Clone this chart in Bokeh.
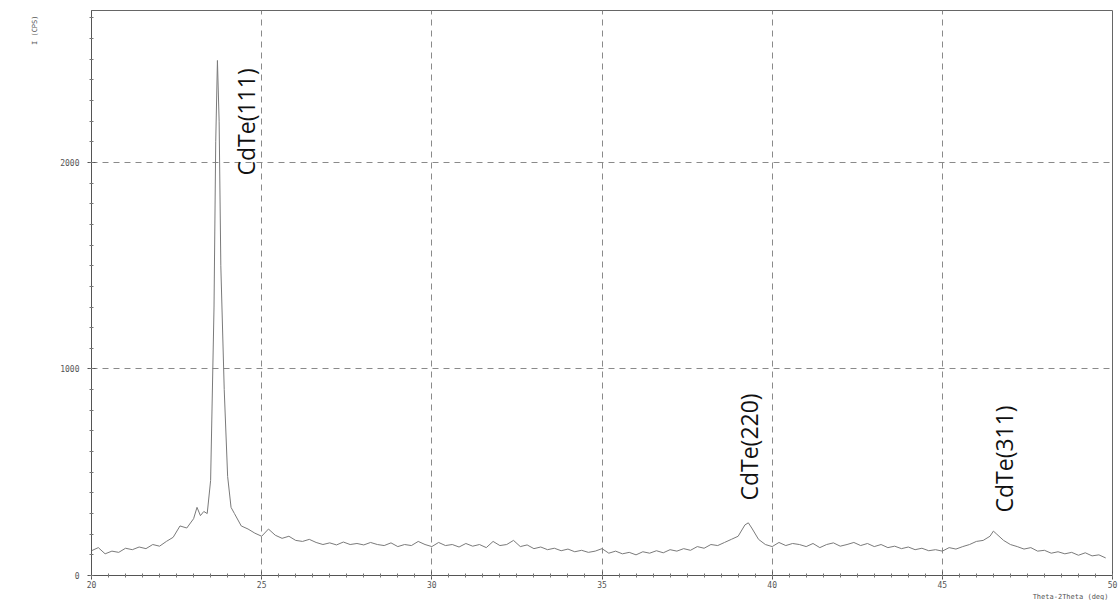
import math
from bokeh.plotting import figure
from bokeh.models import FixedTicker, Label, Range1d, Title
from bokeh.embed import file_html
from bokeh.resources import INLINE

# 2-theta (deg) and intensity (cps)
two_theta = [20.0, 20.2, 20.4, 20.6, 20.8, 21.0, 21.2, 21.4, 21.6, 21.8,
             22.0, 22.2, 22.4, 22.6, 22.8, 23.0, 23.1, 23.2, 23.3, 23.4,
             23.5, 23.6, 23.65, 23.7, 23.75, 23.8, 23.9, 24.0, 24.1, 24.2,
             24.4, 24.6, 24.8, 25.0, 25.2, 25.4, 25.6, 25.8, 26.0, 26.2,
             26.4, 26.6, 26.8, 27.0, 27.2, 27.4, 27.6, 27.8, 28.0, 28.2,
             28.4, 28.6, 28.8, 29.0, 29.2, 29.4, 29.6, 29.8, 30.0, 30.2,
             30.4, 30.6, 30.8, 31.0, 31.2, 31.4, 31.6, 31.8, 32.0, 32.2,
             32.4, 32.6, 32.8, 33.0, 33.2, 33.4, 33.6, 33.8, 34.0, 34.2,
             34.4, 34.6, 34.8, 35.0, 35.2, 35.4, 35.6, 35.8, 36.0, 36.2,
             36.4, 36.6, 36.8, 37.0, 37.2, 37.4, 37.6, 37.8, 38.0, 38.2,
             38.4, 38.6, 38.8, 39.0, 39.2, 39.3, 39.4, 39.6, 39.8, 40.0,
             40.2, 40.4, 40.6, 40.8, 41.0, 41.2, 41.4, 41.6, 41.8, 42.0,
             42.2, 42.4, 42.6, 42.8, 43.0, 43.2, 43.4, 43.6, 43.8, 44.0,
             44.2, 44.4, 44.6, 44.8, 45.0, 45.2, 45.4, 45.6, 45.8, 46.0,
             46.2, 46.4, 46.5, 46.6, 46.8, 47.0, 47.2, 47.4, 47.6, 47.8,
             48.0, 48.2, 48.4, 48.6, 48.8, 49.0, 49.2, 49.4, 49.6, 49.8]
intensity = [120, 135, 105, 118, 112, 132, 125, 138, 130, 150,
             142, 165, 185, 240, 230, 275, 330, 290, 310, 300,
             460, 1300, 2100, 2494, 2200, 1500, 900, 480, 330, 300,
             240, 225, 205, 190, 225, 195, 180, 190, 170, 165,
             175, 160, 150, 158, 148, 162, 150, 155, 148, 160,
             150, 145, 158, 140, 150, 145, 165, 150, 140, 160,
             145, 150, 138, 155, 142, 150, 135, 165, 145, 150,
             170, 140, 148, 130, 138, 125, 132, 120, 128, 115,
             122, 112, 118, 130, 108, 118, 105, 112, 100, 115,
             108, 120, 110, 125, 118, 130, 122, 140, 132, 150,
             145, 160, 175, 190, 245, 255, 230, 175, 150, 140,
             160, 145, 155, 150, 140, 155, 135, 150, 158, 142,
             150, 160, 145, 155, 140, 150, 135, 142, 130, 138,
             125, 132, 120, 125, 118, 135, 128, 140, 150, 165,
             170, 190, 215, 200, 170, 150, 140, 128, 135, 118,
             122, 108, 115, 105, 112, 98, 110, 95, 100, 85]

peak_labels = ["CdTe(111)", "CdTe(220)", "CdTe(311)"]
peak_label_x = [24.55, 39.31, 46.8]
peak_label_y = [1937, 363, 305]

x_major = [20, 25, 30, 35, 40, 45, 50]
y_major = [0, 1000, 2000]

p = figure(width=1118, height=600, output_backend="svg", toolbar_location=None,
           x_range=Range1d(20, 50), y_range=Range1d(0, 2736),
           min_border_left=91, min_border_right=6, min_border_top=10,
           min_border_bottom=25, background_fill_color="white",
           border_fill_color="white")

p.line(two_theta, intensity, line_color="#7a7a7a", line_width=1)

x_minor = [20 + 0.5 * i for i in range(61)]
y_minor = [100 * i for i in range(28)]
p.xaxis.ticker = FixedTicker(ticks=x_major, minor_ticks=x_minor)
p.yaxis.ticker = FixedTicker(ticks=y_major, minor_ticks=y_minor)

for ax in (p.xaxis[0], p.yaxis[0]):
    ax.axis_line_color = "#555555"
    ax.major_tick_line_color = "#555555"
    ax.minor_tick_line_color = "#777777"
    ax.major_tick_in = 4
    ax.major_tick_out = 4
    ax.minor_tick_in = 2
    ax.minor_tick_out = 2
    ax.major_label_text_font = "DejaVu Sans Mono"
    ax.major_label_text_font_size = "8px"
    ax.major_label_text_color = "#555555"
p.xaxis.major_label_standoff = 1
p.yaxis.major_label_standoff = 8

p.xgrid.ticker = FixedTicker(ticks=x_major)
p.ygrid.ticker = FixedTicker(ticks=y_major)
for g in (p.xgrid[0], p.ygrid[0]):
    g.grid_line_color = "#8a8a8a"
    g.grid_line_dash = "6 5"
    g.grid_line_width = 1

p.outline_line_color = "#666666"

for t, x, y in zip(peak_labels, peak_label_x, peak_label_y):
    p.add_layout(Label(x=x, y=y, text=t, angle=math.pi / 2,
                       text_align="left", text_baseline="middle",
                       text_font="Open Sans", text_font_size="23px",
                       text_color="#111111"))

p.add_layout(Title(text="Theta-2Theta (deg)", align="right", offset=4,
                   standoff=0, text_font="DejaVu Sans Mono",
                   text_font_size="7px", text_font_style="normal",
                   text_color="#555555"), "below")
p.add_layout(Title(text="I (CPS)", align="right", offset=5,
                   standoff=38, text_font="DejaVu Sans Mono",
                   text_font_size="7px", text_font_style="normal",
                   text_color="#555555"), "left")

open("out.html", "w").write(file_html(p, INLINE))
